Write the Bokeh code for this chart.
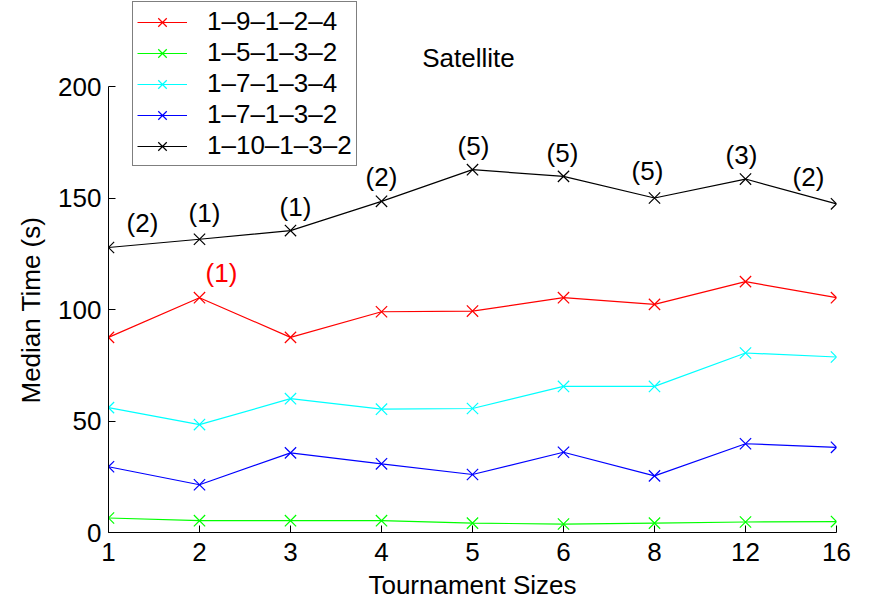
from bokeh.plotting import figure
from bokeh.models import (ColumnDataSource, Range1d, FixedTicker, Legend, LegendItem,
                          Label, Title)
from bokeh.core.properties import value
from bokeh.embed import file_html
from bokeh.resources import INLINE

# Tournament sizes (categorical positions 1..9 on the x axis)
sizes = ["1", "2", "3", "4", "5", "6", "8", "12", "16"]
xpos = list(range(1, len(sizes) + 1))

# Median time (s) per configuration
s_1_9_1_2_4 = [87.5, 105.3, 87.5, 99.0, 99.3, 105.3, 102.3, 112.5, 105.3]
s_1_5_1_3_2 = [6.5, 5.3, 5.3, 5.3, 4.2, 3.8, 4.2, 4.7, 4.9]
s_1_7_1_3_4 = [56.0, 48.4, 60.0, 55.3, 55.6, 65.5, 65.5, 80.5, 78.7]
s_1_7_1_3_2 = [29.5, 21.4, 35.7, 30.8, 26.0, 36.0, 25.4, 39.8, 38.2]
s_1_10_1_3_2 = [127.8, 131.5, 135.4, 148.5, 162.7, 159.7, 150.0, 158.5, 147.4]

series_names = ["1\u20139\u20131\u20132\u20134", "1\u20135\u20131\u20133\u20132",
                "1\u20137\u20131\u20133\u20134", "1\u20137\u20131\u20133\u20132",
                "1\u201310\u20131\u20133\u20132"]
series_values = [s_1_9_1_2_4, s_1_5_1_3_2, s_1_7_1_3_4, s_1_7_1_3_2, s_1_10_1_3_2]
series_colors = ["#ff0000", "#00ff00", "#00ffff", "#0000ff", "#000000"]

y_ticks = [0, 50, 100, 150, 200]

# Counts shown above the 1-10-1-3-2 curve, and the single one on 1-9-1-2-4
black_counts = ["(2)", "(1)", "(1)", "(2)", "(5)", "(5)", "(5)", "(3)", "(2)"]
black_dx = [34, 5, 5, 0, 1, -1, -7, -4, -28]
black_dy = [-25, -26, -24, -24, -24, -23, -27, -24, -27]
red_count = ["(1)"]
red_index = [1]

FONT = "Liberation Sans"
FS = "26px"

W, H = 869, 604
BORDER_L, BORDER_R, BORDER_B = 108, 33, 72
AXIS_TOP = 86                      # pixel row of the 200 tick
frame_h = H - BORDER_B
y_top = y_ticks[-1] * frame_h / (frame_h - AXIS_TOP)

p = figure(width=W, height=H, output_backend="svg", toolbar_location=None,
           x_range=Range1d(1, 9), y_range=Range1d(0, y_top),
           min_border_left=BORDER_L, min_border_right=BORDER_R,
           min_border_top=0, min_border_bottom=BORDER_B)
p.outline_line_color = None
p.xgrid.visible = False
p.ygrid.visible = False
p.background_fill_color = "white"
p.border_fill_color = "white"

for ax in (p.xaxis[0], p.yaxis[0]):
    ax.axis_line_color = "black"
    ax.axis_line_width = 1
    ax.major_tick_line_color = "black"
    ax.major_tick_in = 7
    ax.major_tick_out = 0
    ax.minor_tick_line_color = None
    ax.major_label_text_font = FONT
    ax.major_label_text_font_size = FS
    ax.major_label_text_color = "black"
    ax.axis_label_text_font = FONT
    ax.axis_label_text_font_size = FS
    ax.axis_label_text_font_style = "normal"
    ax.axis_label_text_color = "black"

p.xaxis.ticker = FixedTicker(ticks=xpos)
p.xaxis.major_label_overrides = {x: s for x, s in zip(xpos, sizes)}
p.xaxis.axis_label = "Tournament Sizes"
p.xaxis.major_label_standoff = 10
p.xaxis.axis_label_standoff = 6

p.yaxis.ticker = FixedTicker(ticks=y_ticks)
p.yaxis.bounds = (y_ticks[0], y_ticks[-1])
p.yaxis.major_label_standoff = 7

# y label centred on the 0..200 span of the axis (not on the taller frame)
ylab = Title(text="Median Time (s)", align="left", offset=129, standoff=20,
             text_font=FONT, text_font_size=FS, text_font_style="normal",
             text_color="black")
p.add_layout(ylab, "left")

items = []
for name, vals, col in zip(series_names, series_values, series_colors):
    src = ColumnDataSource(dict(x=xpos, y=vals))
    ln = p.line("x", "y", source=src, line_color=col, line_width=1.2)
    mk = p.scatter("x", "y", source=src, marker="x", size=16,
                   line_color=col, line_width=1.2)
    items.append(LegendItem(label=name, renderers=[ln, mk]))

lab_src = ColumnDataSource(dict(x=xpos, y=s_1_10_1_3_2, text=black_counts,
                                dx=black_dx, dy=black_dy))
p.text("x", "y", text="text", source=lab_src, x_offset="dx", y_offset="dy",
       text_align="center", text_baseline="middle",
       text_font=value(FONT), text_font_size=FS, text_color="black")

red_src = ColumnDataSource(dict(x=[xpos[i] for i in red_index],
                                y=[s_1_9_1_2_4[i] for i in red_index],
                                text=red_count))
p.text("x", "y", text="text", source=red_src, x_offset=22, y_offset=-25,
       text_align="center", text_baseline="middle",
       text_font=value(FONT), text_font_size=FS, text_color="#ff0000")

# Title drawn inside the (extended) frame, above the top of the y axis
p.add_layout(Label(x=360, y=475, x_units="screen", y_units="screen",
                   text="Satellite", text_align="center", text_baseline="middle",
                   text_font=FONT, text_font_size=FS, text_color="black"))

legend = Legend(items=items, location=(24, 366),
                border_line_color="black", border_line_width=1,
                background_fill_color="white", background_fill_alpha=1.0,
                padding=4, spacing=0, margin=0,
                glyph_width=50, glyph_height=30, label_height=30,
                label_standoff=20,
                label_text_font=FONT, label_text_font_size=FS,
                label_text_color="black")
p.add_layout(legend, "center")

open("out.html", "w").write(file_html(p, INLINE))
